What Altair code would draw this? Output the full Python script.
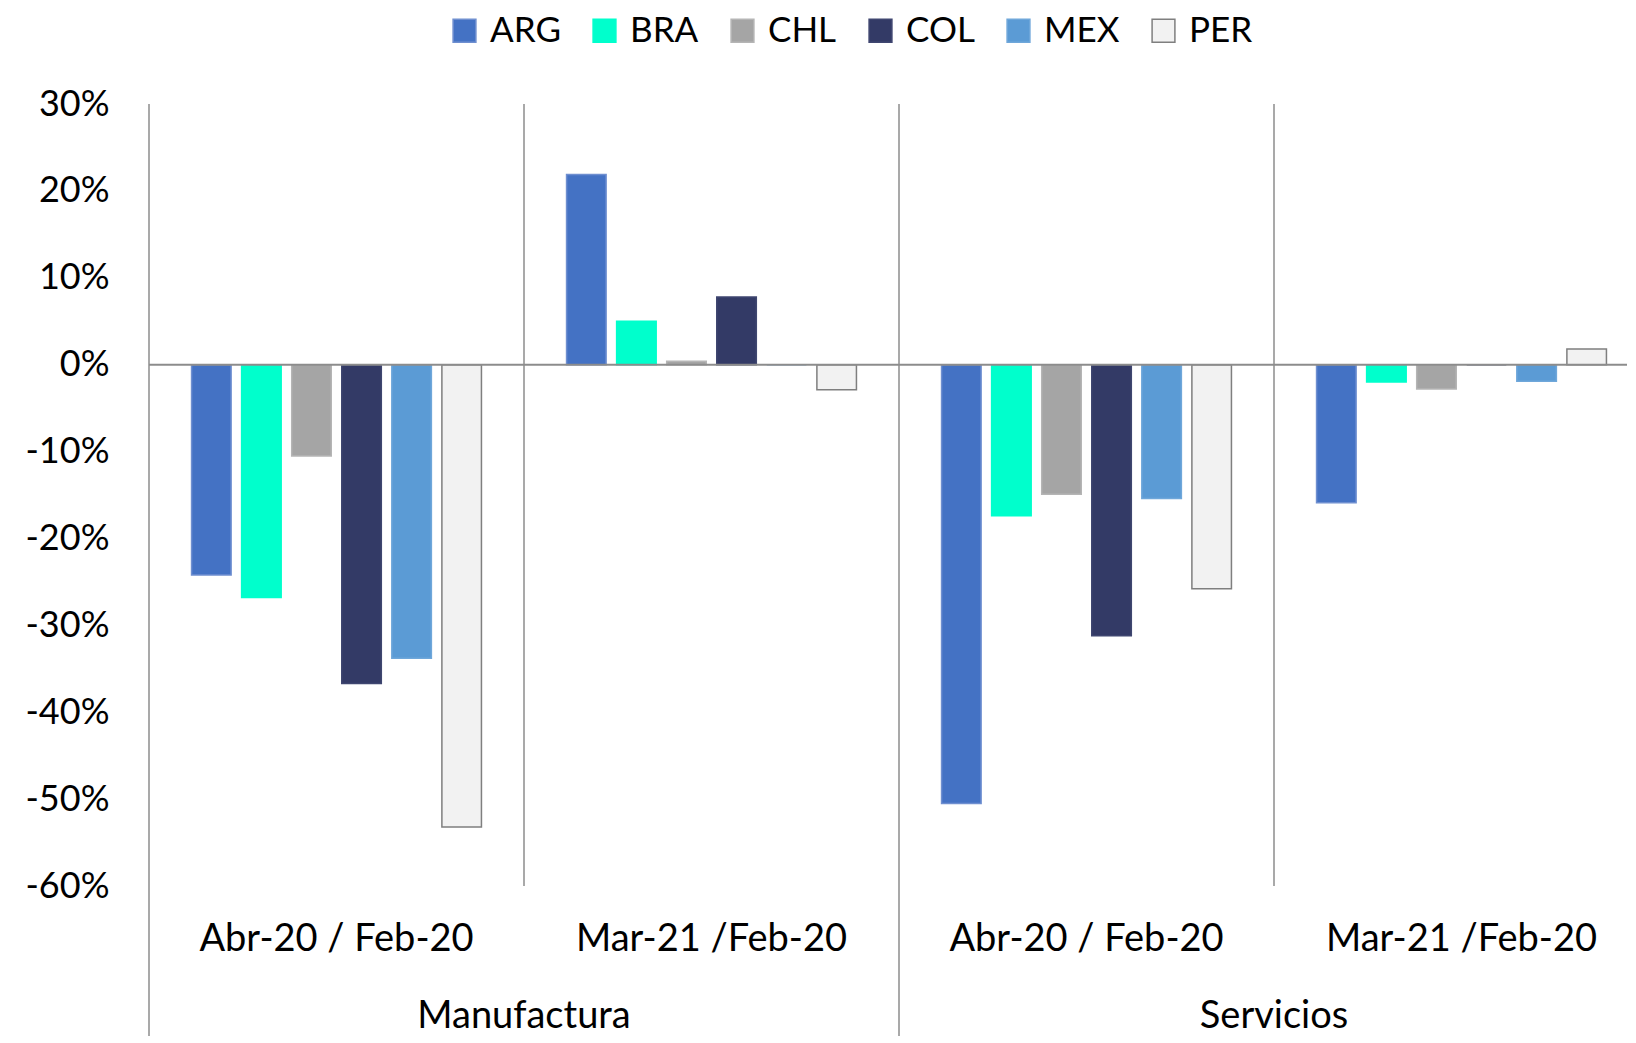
import altair as alt
import pandas as pd

countries = ["ARG", "BRA", "CHL", "COL", "MEX", "PER"]
fills = ["#4472C4", "#00FFCC", "#A5A5A5", "#333A66", "#5B9BD5", "#F2F2F2"]
strokes = ["#6F8FD0", "#00FFCC", "#B5B5B5", "#3F4670", "#6FA7DA", "#7F7F7F"]
sectors = ["Manufactura", "Servicios"]
periods = ["Abr-20 / Feb-20", "Mar-21 /Feb-20"]

man_abr = [-24.2, -26.8, -10.5, -36.7, -33.8, -53.2]
man_mar = [21.9, 5.0, 0.4, 7.8, 0.0, -2.9]
ser_abr = [-50.5, -17.4, -14.9, -31.2, -15.4, -25.8]
ser_mar = [-15.9, -2.0, -2.8, 0.0, -1.9, 1.8]

y_ticks = [-60, -50, -40, -30, -20, -10, 0, 10, 20, 30]

series = {
    ("Manufactura", "Abr-20 / Feb-20"): man_abr,
    ("Manufactura", "Mar-21 /Feb-20"): man_mar,
    ("Servicios", "Abr-20 / Feb-20"): ser_abr,
    ("Servicios", "Mar-21 /Feb-20"): ser_mar,
}

groups = []
group_periods = []
rows = []
for s in sectors:
    for p in periods:
        g = s + "|" + p
        groups.append(g)
        group_periods.append(p)
        for c, v in zip(countries, series[(s, p)]):
            rows.append({"grp": g, "country": c, "value": v})
df = pd.DataFrame(rows)

W = 1500
H = 782
BOTTOM = 150
FONT = "Lato"

xscale = alt.Scale(domain=groups, paddingInner=0, paddingOuter=0)

legend = alt.Legend(title=None, orient="none", direction="horizontal",
                    legendX=298, legendY=-91, symbolType="square",
                    symbolSize=520, labelFontSize=35, labelFont=FONT,
                    labelColor="#000000", columnPadding=26,
                    labelOffset=8, symbolStrokeWidth=1.5)

bars = alt.Chart(df).mark_bar(strokeWidth=1.5).encode(
    x=alt.X("grp:N", scale=xscale, title=None, axis=None),
    xOffset=alt.XOffset("country:N", sort=countries,
                        scale=alt.Scale(paddingInner=0.21, paddingOuter=0.85)),
    y=alt.Y("value:Q", title=None,
            scale=alt.Scale(domain=[-60, 30], nice=False),
            axis=alt.Axis(values=y_ticks, labelExpr="datum.value + '%'",
                          grid=False, ticks=False, domain=False,
                          labelFontSize=36, labelPadding=40,
                          labelColor="#000000", labelFont=FONT)),
    fill=alt.Fill("country:N", sort=countries,
                  scale=alt.Scale(domain=countries, range=fills), legend=legend),
    stroke=alt.Stroke("country:N", sort=countries,
                      scale=alt.Scale(domain=countries, range=strokes), legend=legend),
)

zero = alt.Chart(pd.DataFrame({"v": [0]})).mark_rule(color="#8C8C8C", strokeWidth=2).encode(
    y=alt.Y("v:Q"), x=alt.value(0), x2=alt.value(W)
)

outer_sep = alt.Chart(pd.DataFrame({"grp": [groups[0], groups[2]]})).mark_rule(
    color="#8C8C8C", strokeWidth=1.5).encode(
    x=alt.X("grp:N", bandPosition=0, axis=None),
    y=alt.value(0), y2=alt.value(H + BOTTOM)
)
inner_sep = alt.Chart(pd.DataFrame({"grp": [groups[1], groups[3]]})).mark_rule(
    color="#8C8C8C", strokeWidth=1.5).encode(
    x=alt.X("grp:N", bandPosition=0, axis=None),
    y=alt.value(0), y2=alt.value(H)
)

period_df = pd.DataFrame({"grp": groups, "label": group_periods})
period_text = alt.Chart(period_df).mark_text(
    fontSize=38, font=FONT, color="#000000", baseline="middle", align="center").encode(
    x=alt.X("grp:N", bandPosition=0.5, axis=None),
    y=alt.value(H + 54),
    text="label:N",
)

sector_df = pd.DataFrame({"grp": [groups[0], groups[2]], "label": sectors})
sector_text = alt.Chart(sector_df).mark_text(
    fontSize=38, font=FONT, color="#000000", baseline="middle", align="center").encode(
    x=alt.X("grp:N", bandPosition=1, axis=None),
    y=alt.value(H + 131),
    text="label:N",
)

chart = alt.layer(bars, zero, outer_sep, inner_sep, period_text, sector_text).properties(
    width=W, height=H,
    autosize=alt.AutoSizeParams(type="none"),
    padding={"left": 141, "top": 96, "right": -22, "bottom": BOTTOM},
).configure_view(stroke=None)

chart.save("out.html", embed_options={"renderer": "svg", "actions": False})
